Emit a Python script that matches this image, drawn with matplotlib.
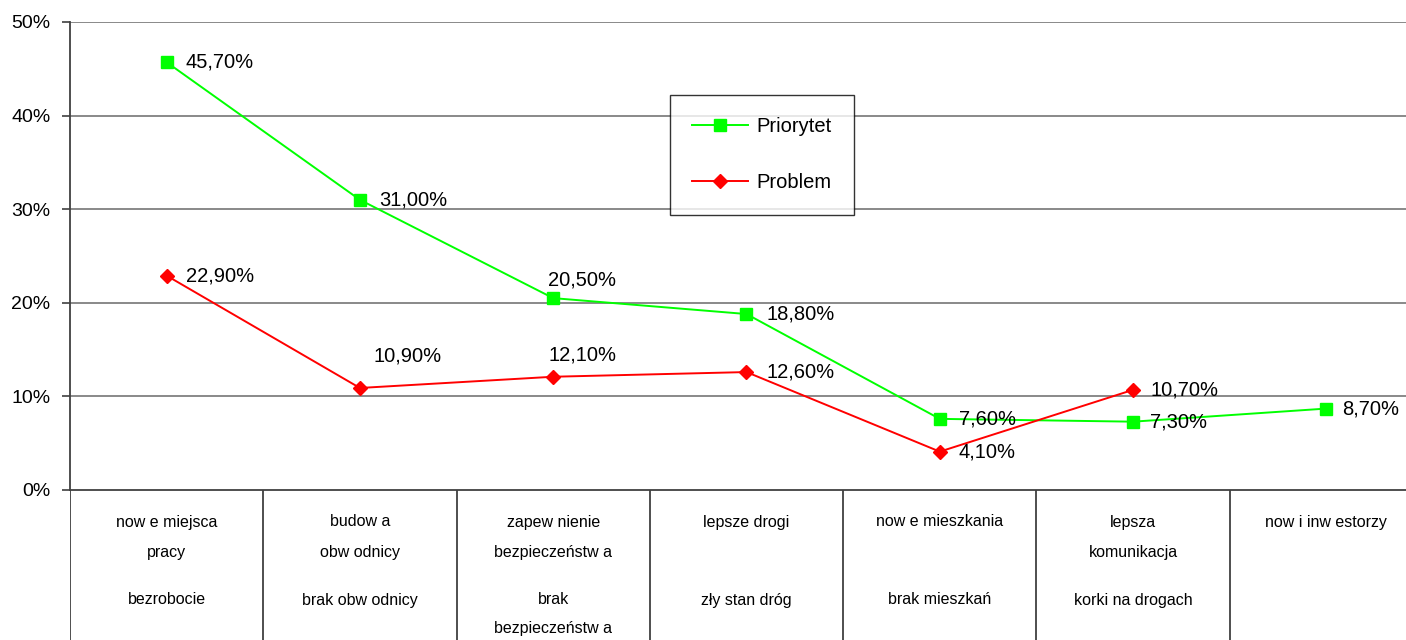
import matplotlib
matplotlib.use("Agg")
import matplotlib.pyplot as plt
from matplotlib.ticker import FuncFormatter
from matplotlib import font_manager

# ---- data ----
categories_top = ["now e miejsca\npracy", "budow a\nobw odnicy", "zapew nienie\nbezpieczeństw a",
                  "lepsze drogi", "now e mieszkania", "lepsza\nkomunikacja", "now i inw estorzy"]
categories_bottom = ["bezrobocie", "brak obw odnicy", "brak\nbezpieczeństw a",
                     "zły stan dróg", "brak mieszkań", "korki na drogach", ""]
priorytet = [45.7, 31.0, 20.5, 18.8, 7.6, 7.3, 8.7]
problem = [22.9, 10.9, 12.1, 12.6, 4.1, 10.7]
series_names = ["Priorytet", "Problem"]
yticks = [0, 10, 20, 30, 40, 50]

# label offsets (pixels) for data labels
off_prior = [(19, 0), (19, 0), (-5, 18), (20, 0), (19, 0), (17, 0), (16, 0)]
off_prob = [(19, 0), (14, 32), (-5, 22), (20, 0), (19, 0), (17, 0)]

avail = {f.name for f in font_manager.fontManager.ttflist}
base_font = "Liberation Sans" if "Liberation Sans" in avail else "DejaVu Sans"
plt.rcParams["font.family"] = [base_font, "DejaVu Sans"]

W, H = 1406, 640
fig = plt.figure(figsize=(W / 100, H / 100), dpi=100)
fig.patch.set_facecolor("white")

left = 70 / W
width = 1353 / W
ax = fig.add_axes([left, (H - 490) / H, width, (490 - 22) / H])
ax.set_xlim(0, 7)
ax.set_ylim(0, 50)

grid_c = "#808080"
dark = "#404040"
for v in yticks[1:]:
    ax.axhline(v, color=grid_c, lw=1.3, zorder=1)

x1 = [i + 0.5 for i in range(len(priorytet))]
x2 = [i + 0.5 for i in range(len(problem))]
ax.plot(x1, priorytet, color="#00FF00", lw=1.4, marker="s", ms=8.0,
        mec="#00FF00", mfc="#00FF00", label=series_names[0], zorder=3, clip_on=False)
ax.plot(x2, problem, color="#FF0000", lw=1.4, marker="D", ms=7.5,
        mec="#FF0000", mfc="#FF0000", label=series_names[1], zorder=3, clip_on=False)

def fmt(v):
    return f"{v:.2f}".replace(".", ",") + "%"

lab_size = 14.5
for xi, v, (dx, dy) in zip(x1, priorytet, off_prior):
    ax.annotate(fmt(v), (xi, v), xytext=(dx, dy), textcoords="offset pixels",
                ha="left", va="center", fontsize=lab_size, color="black", annotation_clip=False)
for xi, v, (dx, dy) in zip(x2, problem, off_prob):
    ax.annotate(fmt(v), (xi, v), xytext=(dx, dy), textcoords="offset pixels",
                ha="left", va="center", fontsize=lab_size, color="black", annotation_clip=False)

ax.set_yticks(yticks)
ax.yaxis.set_major_formatter(FuncFormatter(lambda v, p: f"{int(v)}%"))
ax.set_xticks([])
ax.tick_params(axis="y", direction="out", length=6, width=1.2, color=dark,
               labelsize=14, pad=8)
for s in ["top", "right"]:
    ax.spines[s].set_visible(False)
ax.spines["left"].set_color(dark)
ax.spines["left"].set_linewidth(1.3)
ax.spines["bottom"].set_color(dark)
ax.spines["bottom"].set_linewidth(1.3)

leg = ax.legend(loc="upper left", bbox_to_anchor=(670 / W, 1 - 95 / H),
                bbox_transform=fig.transFigure, borderaxespad=0, fontsize=lab_size,
                frameon=True, fancybox=False, shadow=False, labelspacing=1.85,
                borderpad=1.1, handlelength=2.75, handletextpad=0.45)
leg.get_frame().set_edgecolor("#000000")
leg.get_frame().set_linewidth(1.0)

# ---- category table below ----
ax2 = fig.add_axes([left, 0, width, 150 / H])
ax2.set_xlim(0, 7)
ax2.set_ylim(150, 0)
ax2.axis("off")
ax2.vlines(range(0, 7), 0, 150, color=dark, lw=1.3)
row_y = {0: [32, 62], 1: [110, 138]}
for i, (t, b) in enumerate(zip(categories_top, categories_bottom)):
    for r, lab in enumerate([t, b]):
        for j, line in enumerate(lab.split("\n")):
            if line:
                ax2.text(i + 0.5, row_y[r][j], line, ha="center", va="center",
                         fontsize=11.5)

fig.savefig("out.png", dpi=100)
